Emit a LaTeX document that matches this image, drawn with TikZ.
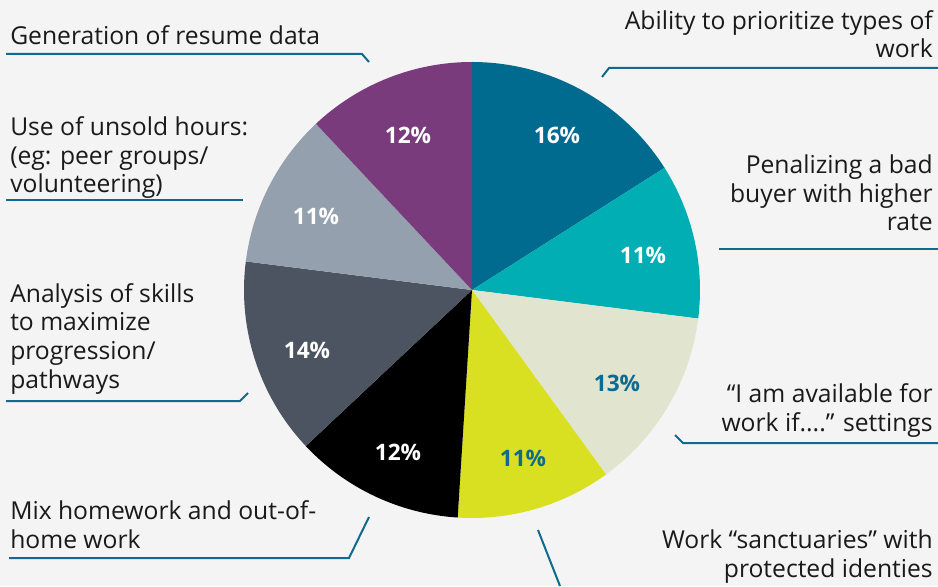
\documentclass[tikz,border=0pt]{standalone}
\usepackage{fontspec}
\setmainfont{Open Sans}
\definecolor{bgc}{HTML}{F4F4F4}
\definecolor{txt}{HTML}{1A1A1A}
\definecolor{lnc}{HTML}{0E6B8F}
\definecolor{sA}{HTML}{006B8E}
\definecolor{sB}{HTML}{00AEB3}
\definecolor{sC}{HTML}{E1E5D0}
\definecolor{sD}{HTML}{D9E021}
\definecolor{sE}{HTML}{000000}
\definecolor{sF}{HTML}{4D5461}
\definecolor{sG}{HTML}{95A0AF}
\definecolor{sH}{HTML}{7A3B7D}

\begin{document}
\begin{tikzpicture}[x=0.75pt, y=0.75pt,
  note/.style={inner sep=0pt, text=txt, font=\fontsize{18.5}{21.5}\selectfont},
  pct/.style={inner sep=0pt, text=white, font=\fontsize{17}{20}\selectfont\bfseries},
  leader/.style={draw=lnc, line width=1.5pt}]
  \fill[bgc] (0, 0) rectangle (938, 586);
  \useasboundingbox (0, 0) rectangle (938, 586);
  \coordinate (O) at (472, 296);

  % slices, clockwise from the top
  \foreach \a/\b/\c in {90/32.4/sA, 32.4/-7.2/sB, -7.2/-54/sC, -54/-93.6/sD,
      -93.6/-136.8/sE, -136.8/-187.2/sF, -187.2/-226.8/sG, -226.8/-270/sH}
    \fill[\c] (O) -- ++(\a:228) arc[start angle=\a, end angle=\b, radius=228] -- cycle;

  \node[pct] (p16) at (557, 451) {16\%};
  \node[pct] (p11a) at (643, 331) {11\%};
  \node[pct, text=lnc] (p13) at (617, 203) {13\%};
  \node[pct, text=lnc] (p11b) at (523, 128) {11\%};
  \node[pct] (p12a) at (398, 134) {12\%};
  \node[pct] (p14) at (307, 236) {14\%};
  \node[pct] (p11c) at (316, 370) {11\%};
  \node[pct] (p12b) at (408, 451) {12\%};

  % texts on the left (base = last line)
  \node[note, anchor=base west] (gen) at (10, 541) {Generation of resume data};
  \node[note, anchor=base west, align=left] (uns) at (10, 393)
       {Use of unsold hours:\\(eg: peer groups/\\volunteering)};
  \node[note, anchor=base west, align=left] (ana) at (10, 198)
       {Analysis of skills\\to maximize\\progression/\\pathways};
  \node[note, anchor=base west, align=left] (mix) at (10, 38)
       {Mix homework and out-of-\\home work};
  % texts on the right
  \node[note, anchor=base east, align=right] (abi) at (933, 528)
       {Ability to prioritize types of\\work};
  \node[note, anchor=base east, align=right] (pen) at (933, 355)
       {Penalizing a bad\\buyer with higher\\rate};
  \node[note, anchor=base east, align=right] (ava) at (933, 155)
       {“I am available for\\work if....” settings};
  \node[note, anchor=base east, align=right] (san) at (933, 9)
       {Work “sanctuaries” with\\protected identies};

  % leader lines
  \coordinate (gen1) at (6, 532);    \coordinate (gen2) at (362, 532);  \coordinate (gen3) at (369, 524);
  \coordinate (uns1) at (6, 386);    \coordinate (uns2) at (243, 386);
  \coordinate (ana1) at (6, 185);    \coordinate (ana2) at (240, 185);  \coordinate (ana3) at (248, 193);
  \coordinate (mix1) at (9, 28);     \coordinate (mix2) at (349, 28);   \coordinate (mix3) at (369, 69);
  \coordinate (abi1) at (938, 518);  \coordinate (abi2) at (609, 518);  \coordinate (abi3) at (602, 509);
  \coordinate (pen1) at (938, 337);  \coordinate (pen2) at (719, 337);
  \coordinate (ava1) at (938, 143);  \coordinate (ava2) at (683, 143);  \coordinate (ava3) at (675, 151);
  \coordinate (san1) at (538, 56);   \coordinate (san2) at (560, 0);
  \draw[leader] (gen1) -- (gen2) -- (gen3);
  \draw[leader] (uns1) -- (uns2);
  \draw[leader] (ana1) -- (ana2) -- (ana3);
  \draw[leader] (mix1) -- (mix2) -- (mix3);
  \draw[leader] (abi1) -- (abi2) -- (abi3);
  \draw[leader] (pen1) -- (pen2);
  \draw[leader] (ava1) -- (ava2) -- (ava3);
  \draw[leader] (san1) -- (san2);
\end{tikzpicture}
\end{document}
